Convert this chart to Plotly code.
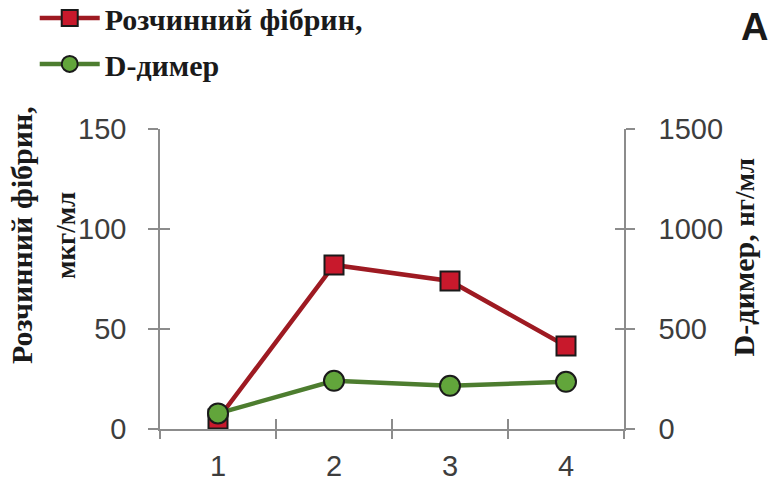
import plotly.graph_objects as go

# Time points (x categories)
points = [1, 2, 3, 4]
point_labels = ["1", "2", "3", "4"]

# Soluble fibrin, µg/ml (left axis)
fibrin = [5, 82, 74, 41.5]
# D-dimer, ng/ml (right axis)
ddimer = [78, 241, 216, 236]

left_ticks = [0, 50, 100, 150]
right_ticks = [0, 500, 1000, 1500]

RED_LINE = "#9e1a22"
RED_FILL = "#c8192c"
GREEN_LINE = "#4d7d2f"
GREEN_FILL = "#62a53b"
AXIS_GREY = "#8c8c8c"
TICK_FONT = dict(family="Liberation Sans, Arial", size=29, color="#3d3d3d")
SERIF = "Liberation Serif, Times New Roman"

fig = go.Figure()
fig.add_trace(go.Scatter(
    x=points, y=fibrin, name="<b>Розчинний фібрин,</b>",
    mode="lines+markers", legendgroup="a",
    line=dict(color=RED_LINE, width=4.5),
    marker=dict(symbol="square", size=19, color=RED_FILL,
                line=dict(color="#1a1a1a", width=2)),
    xaxis="x", yaxis="y",
))
fig.add_trace(go.Scatter(
    x=points, y=ddimer, name="<b>D-димер</b>",
    mode="lines+markers", legendgroup="b",
    line=dict(color=GREEN_LINE, width=4.5),
    marker=dict(symbol="circle", size=20, color=GREEN_FILL,
                line=dict(color="#1a1a1a", width=2)),
    xaxis="x", yaxis="y2",
))

x_range = [0.5, 4.5]
boundaries = [p - 0.5 for p in points] + [points[-1] + 0.5]

common = dict(showgrid=False, zeroline=False, automargin=False)

fig.update_layout(
    width=774, height=482,
    margin=dict(l=160, r=150, t=128.5, b=53, autoexpand=False),
    paper_bgcolor="white", plot_bgcolor="white",
    showlegend=True,
    legend=dict(
        x=-0.27, y=1.457, xanchor="left", yanchor="top",
        font=dict(family=SERIF, size=30, color="#1a1a1a"),
        tracegroupgap=4, bgcolor="rgba(0,0,0,0)",
        itemwidth=60,
    ),
    # category labels at the centres
    xaxis=dict(
        range=x_range, tickvals=points, ticktext=point_labels,
        ticks="", showline=True, linecolor=AXIS_GREY, linewidth=1.5,
        tickfont=TICK_FONT, ticklabelstandoff=10, anchor="y", **common,
    ),
    # boundary ticks below the axis line
    xaxis2=dict(
        overlaying="x", anchor="y", side="bottom", range=x_range,
        tickvals=boundaries, showticklabels=False, ticks="outside",
        ticklen=9, tickcolor=AXIS_GREY, tickwidth=1.5, showline=False,
        **common,
    ),
    # boundary ticks above the axis line
    xaxis3=dict(
        overlaying="x", anchor="y", side="bottom", range=x_range,
        tickvals=boundaries, showticklabels=False, ticks="inside",
        ticklen=10, tickcolor=AXIS_GREY, tickwidth=1.5, showline=False,
        **common,
    ),
    yaxis=dict(
        range=[0, 150], tickvals=left_ticks, ticks="outside", ticklen=10,
        tickcolor=AXIS_GREY, tickwidth=1.5, anchor="x",
        showline=True, linecolor=AXIS_GREY, linewidth=1.5,
        tickfont=TICK_FONT, ticklabelstandoff=16, **common,
    ),
    yaxis2=dict(
        overlaying="y", anchor="x", side="right", range=[0, 1500],
        tickvals=right_ticks, ticks="outside", ticklen=9,
        tickcolor=AXIS_GREY, tickwidth=1.5,
        showline=True, linecolor=AXIS_GREY, linewidth=1.5,
        tickfont=TICK_FONT, ticklabelstandoff=18, **common,
    ),
    yaxis3=dict(
        overlaying="y", anchor="x", side="left", range=[0, 150],
        tickvals=left_ticks, ticks="inside", ticklen=10,
        tickcolor=AXIS_GREY, tickwidth=1.5,
        showticklabels=False, showline=False, **common,
    ),
    yaxis4=dict(
        overlaying="y", anchor="x", side="right", range=[0, 1500],
        tickvals=right_ticks, ticks="inside", ticklen=9,
        tickcolor=AXIS_GREY, tickwidth=1.5,
        showticklabels=False, showline=False, **common,
    ),
)

# empty traces so the tick-only overlay axes get drawn
for xa, ya in [("x2", "y"), ("x3", "y"), ("x", "y3"), ("x", "y4")]:
    fig.add_trace(go.Scatter(x=[], y=[], xaxis=xa, yaxis=ya,
                             showlegend=False, hoverinfo="skip"))

# axis titles
fig.add_annotation(
    text="<b>Розчинний фібрин,</b>", textangle=-90,
    xref="paper", yref="paper", x=-0.30, y=0.646,
    xanchor="center", yanchor="middle", showarrow=False,
    font=dict(family=SERIF, size=30, color="#1a1a1a"),
)
fig.add_annotation(
    text="<b>мкг/мл</b>", textangle=-90,
    xref="paper", yref="paper", x=-0.203, y=0.646,
    xanchor="center", yanchor="middle", showarrow=False,
    font=dict(family=SERIF, size=27, color="#1a1a1a"),
)
fig.add_annotation(
    text="<b>D-димер, <span style='font-size:27px'>нг/мл</span></b>",
    textangle=-90,
    xref="paper", yref="paper", x=1.2565, y=0.572,
    xanchor="center", yanchor="middle", showarrow=False,
    font=dict(family=SERIF, size=30, color="#1a1a1a"),
)
# panel letter
fig.add_annotation(
    text="<b>A</b>", xref="paper", yref="paper", x=1.282, y=1.34,
    xanchor="center", yanchor="middle", showarrow=False,
    font=dict(family="Liberation Sans, Arial", size=38, color="#1a1a1a"),
)

fig.write_html("out.html")
